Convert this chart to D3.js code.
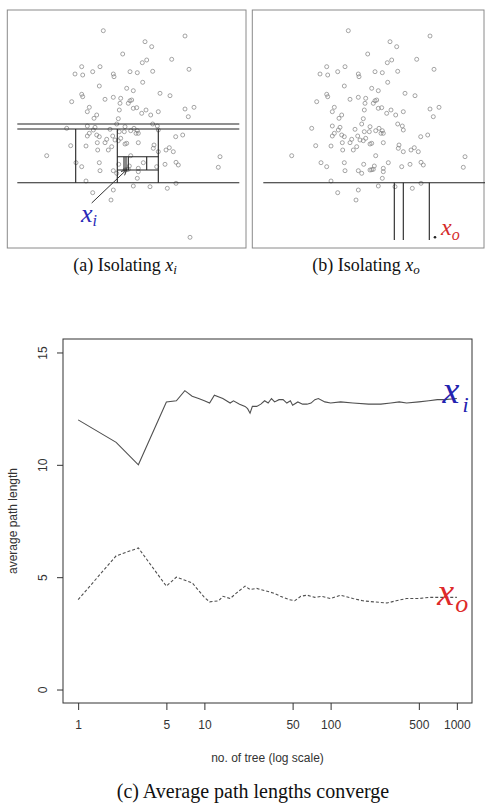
<!DOCTYPE html>
<html>
<head>
<meta charset="utf-8">
<script src="https://cdn.jsdelivr.net/npm/d3@7"></script>
<style>
  body { margin: 0; background: #fff; }
  svg { display: block; }
</style>
</head>
<body>
<div id="chart"></div>
<script>
// ---- data ----

// scatter sample used in panels (a) and (b), arbitrary units, y grows downward
const ptX = [10.33,18.5,14.5,15.17,12.27,17.17,14.67,14.23,8.17,10.0,7.5,8.27,9.27,11.33,11.4,13.0,13.73,15.27,18.9,14.27,
  9.93,12.67,13.33,16.0,17.0,8.17,8.27,7.17,10.5,11.33,12.07,12.0,12.83,13.0,13.17,13.67,13.33,8.93,8.73,9.67,
  9.4,11.93,14.6,15.07,15.83,14.17,18.5,19.4,18.83,6.67,8.73,9.5,9.33,8.93,8.73,9.67,9.93,11.0,11.67,11.83,
  11.93,12.5,12.43,13.07,13.4,13.73,13.83,13.6,15.27,15.73,15.83,10.67,11.27,11.5,11.83,12.07,12.5,12.67,13.83,9.73,
  8.6,7.07,10.5,11.17,9.77,10.83,15.4,15.33,15.83,16.6,16.93,17.33,17.57,18.27,4.67,13.07,7.6,8.17,9.93,10.0,
  11.33,11.87,11.67,12.5,12.83,12.93,13.83,13.83,14.33,15.67,16.5,17.6,17.83,22.0,21.83,8.6,13.73,13.33,15.0,16.73,
  17.6,9.27,11.33,11.1,12.67];
const ptY = [3.07,3.6,4.17,4.67,5.4,5.93,6.0,6.27,6.67,6.67,7.4,7.5,7.17,7.4,7.67,7.17,7.27,7.13,6.93,8.23,
  8.6,8.83,9.07,9.33,9.57,9.43,9.67,10.17,9.93,9.73,9.83,10.33,10.33,10.07,10.0,10.77,10.83,10.73,11.17,11.5,
  11.83,11.0,11.0,11.5,11.17,11.33,10.9,10.73,11.67,12.83,12.6,12.73,13.0,13.33,13.6,13.5,13.67,12.93,12.4,11.87,
  13.17,12.67,13.17,13.07,12.83,13.07,13.33,13.33,12.4,12.6,13.0,13.93,13.6,14.0,14.07,13.83,14.4,14.33,14.27,14.27,
  14.6,14.57,14.27,14.67,15.0,15.0,14.5,14.83,15.17,15.0,14.77,15.17,13.67,13.5,15.57,15.57,16.27,16.67,16.27,17.07,
  17.07,16.43,17.33,17.0,16.93,16.6,16.83,17.17,16.27,16.67,16.43,16.23,16.5,15.67,16.73,18.1,17.83,18.6,18.67,18.83,
  18.33,19.27,19.0,20.0,16.97];
const inlier = [12.67, 16.97];   // x_i
const outlier = [19.0, 23.73];   // x_o

// partition lines [x1, y1, x2, y2]
const cutsA = [
  [1.73,12.4,23.93,12.4],[1.73,12.9,23.93,12.9],[1.73,18.27,23.93,18.27],
  [7.57,12.9,7.57,18.27],[15.83,12.9,15.83,18.27],[11.73,12.9,11.73,18.27],
  [11.73,15.67,15.83,15.67],[11.73,17.0,15.83,17.0],[14.67,15.67,14.67,17.0],
  [12.4,15.67,12.4,17.0],[12.6,15.67,12.6,17.0],[12.83,15.67,12.83,17.0]
];
const cutsB = [
  [1.83,18.27,24.0,18.27],[14.93,18.27,14.93,24.0],[15.83,18.27,15.83,24.0],[18.43,18.27,18.43,24.0]
];

// average path length vs number of trees
const treesI = [1,2,3,5,6,7,8,9,10,11,12,14,16,17,19,21,22,23,24,26,28,30,32,34,36,39,42,45,48,50,55,60,65,70,75,80,90,100,120,150,200,250,300,350,400,500,600,700,800,1000];
const pathI  = [12.0,11.0,10.0,12.8,12.85,13.3,13.05,12.95,12.85,12.75,13.1,12.95,12.75,12.85,12.7,12.6,12.5,12.3,12.6,12.6,12.7,12.85,12.75,12.95,12.8,12.9,12.9,12.75,12.85,12.65,12.8,12.7,12.7,12.75,12.9,12.95,12.8,12.75,12.8,12.75,12.7,12.7,12.75,12.8,12.75,12.8,12.85,12.9,12.9,12.95];
const treesO = [1,2,3,5,6,8,10,11,13,14,16,18,21,23,26,30,35,40,47,52,58,65,75,85,100,120,150,180,220,280,330,400,500,600,800,1000];
const pathO  = [4.0,5.95,6.3,4.6,5.0,4.75,4.1,3.9,3.95,4.15,4.05,4.3,4.6,4.45,4.5,4.4,4.3,4.15,4.0,3.95,4.15,4.2,4.1,4.15,4.05,4.2,4.05,3.95,3.9,3.85,3.95,4.05,4.05,4.1,4.1,4.1];

const xTicks = [1,5,10,50,100,500,1000];
const yTicks = [0,5,10,15];

// ---- drawing ----
const W = 485, H = 803;
const serif = "'Liberation Serif', 'DejaVu Serif', serif";
const sans = "'Liberation Sans', Arial, sans-serif";

const svg = d3.select("#chart").append("svg")
  .attr("width", W).attr("height", H);

// panel scales (shared units), panels are shifted horizontally
const px = d3.scaleLinear().domain([0, 24]).range([0, 240]);
const py = d3.scaleLinear().domain([0, 24]).range([0, 240]);

function drawPanel(offset, right, cuts) {
  const g = svg.append("g").attr("transform", `translate(${offset},0)`);
  g.append("rect")
    .attr("x", px(0.73)).attr("y", py(1.0))
    .attr("width", px(right) - px(0.73)).attr("height", py(24.8) - py(1.0))
    .attr("fill", "none").attr("stroke", "#8a8a8a").attr("stroke-width", 1);
  g.append("g").selectAll("circle")
    .data(d3.range(ptX.length))
    .join("circle")
    .attr("cx", i => px(ptX[i]))
    .attr("cy", i => py(ptY[i]))
    .attr("r", 2.0)
    .attr("fill", "none")
    .attr("stroke", "#808080")
    .attr("stroke-width", 0.7);
  g.append("g").selectAll("line")
    .data(cuts)
    .join("line")
    .attr("x1", d => px(d[0])).attr("y1", d => py(d[1]))
    .attr("x2", d => px(d[2])).attr("y2", d => py(d[3]))
    .attr("stroke", "#222").attr("stroke-width", 1.1);
  return g;
}

const gA = drawPanel(0, 24.6, cutsA);
gA.append("circle")
  .attr("cx", px(outlier[0])).attr("cy", py(outlier[1])).attr("r", 2.0)
  .attr("fill", "none").attr("stroke", "#808080").attr("stroke-width", 0.7);

// arrow to x_i
const ax0 = px(9.17), ay0 = py(20.3), ax1 = px(inlier[0]), ay1 = py(inlier[1]);
const ang = Math.atan2(ay1 - ay0, ax1 - ax0);
gA.append("line").attr("x1", ax0).attr("y1", ay0).attr("x2", ax1).attr("y2", ay1)
  .attr("stroke", "#333").attr("stroke-width", 1);
[0.45, -0.45].forEach(a => {
  gA.append("line")
    .attr("x1", ax1).attr("y1", ay1)
    .attr("x2", ax1 - 6 * Math.cos(ang + a)).attr("y2", ay1 - 6 * Math.sin(ang + a))
    .attr("stroke", "#333").attr("stroke-width", 1);
});
const labA = gA.append("text").attr("x", px(8.1)).attr("y", py(22.2))
  .attr("font-family", serif).attr("font-style", "italic")
  .attr("font-size", 26).attr("fill", "#2a2ab8");
labA.append("tspan").text("x");
labA.append("tspan").attr("font-size", 16).attr("dy", 4).text("i");

const gB = drawPanel(245, 23.9, cutsB);
gB.append("circle")
  .attr("cx", px(outlier[0])).attr("cy", py(outlier[1])).attr("r", 1.3)
  .attr("fill", "#222");
const labB = gB.append("text").attr("x", px(19.6)).attr("y", py(23.5))
  .attr("font-family", serif).attr("font-style", "italic")
  .attr("font-size", 24).attr("fill", "#d42a2a");
labB.append("tspan").text("x");
labB.append("tspan").attr("font-size", 16).attr("dy", 5).text("o");

// captions for (a) and (b)
function caption(cx, y, tag, sub) {
  const t = svg.append("text").attr("x", cx).attr("y", y)
    .attr("text-anchor", "middle").attr("font-family", serif)
    .attr("font-size", 18).attr("fill", "#111");
  t.append("tspan").text(`(${tag}) Isolating `);
  t.append("tspan").attr("font-style", "italic").text("x");
  t.append("tspan").attr("font-style", "italic").attr("font-size", 13).attr("dy", 3).text(sub);
}
caption(125, 271, "a", "i");
caption(366, 271, "b", "o");

// ---- line chart (c) ----
const box = {left: 63, right: 472, top: 339, bottom: 703};
const x = d3.scaleLog().domain([Math.pow(10, -0.12), Math.pow(10, 3.12)]).range([box.left, box.right]);
const y = d3.scaleLinear().domain([-0.6, 15.6]).range([box.bottom, box.top]);

svg.append("rect")
  .attr("x", box.left).attr("y", box.top)
  .attr("width", box.right - box.left).attr("height", box.bottom - box.top)
  .attr("fill", "none").attr("stroke", "#333").attr("stroke-width", 1);

const xAxis = svg.append("g")
  .attr("transform", `translate(0,${box.bottom})`)
  .call(d3.axisBottom(x).tickValues(xTicks).tickFormat(d3.format("d")).tickSize(7).tickPadding(10));
xAxis.select(".domain").remove();
xAxis.selectAll("line").attr("stroke", "#333");
xAxis.selectAll("text").attr("font-family", sans).attr("font-size", 12).attr("fill", "#333");

const yAxis = svg.append("g")
  .attr("transform", `translate(${box.left},0)`)
  .call(d3.axisLeft(y).tickValues(yTicks).tickSize(6));
yAxis.select(".domain").remove();
yAxis.selectAll("line").attr("stroke", "#333");
yAxis.selectAll("text")
  .attr("transform", "rotate(-90)")
  .attr("x", 0).attr("y", -16).attr("dy", 0)
  .attr("text-anchor", "middle")
  .attr("font-family", sans).attr("font-size", 12).attr("fill", "#333");

const line = d3.line().x(d => x(d[0])).y(d => y(d[1]));
svg.append("path")
  .datum(treesI.map((t, i) => [t, pathI[i]]))
  .attr("d", line).attr("fill", "none")
  .attr("stroke", "#505050").attr("stroke-width", 1.1);
svg.append("path")
  .datum(treesO.map((t, i) => [t, pathO[i]]))
  .attr("d", line).attr("fill", "none")
  .attr("stroke", "#505050").attr("stroke-width", 1.1)
  .attr("stroke-dasharray", "3,2");

// series labels
const labI = svg.append("text").attr("x", x(770)).attr("y", y(12.75))
  .attr("font-family", serif).attr("font-style", "italic")
  .attr("font-size", 38).attr("fill", "#2323b0");
labI.append("tspan").text("x");
labI.append("tspan").attr("font-size", 22).attr("dx", 3).attr("dy", 9).text("i");

const labO = svg.append("text").attr("x", x(700)).attr("y", y(3.76))
  .attr("font-family", serif).attr("font-style", "italic")
  .attr("font-size", 38).attr("fill", "#de2a2a");
labO.append("tspan").text("x");
labO.append("tspan").attr("font-size", 26).attr("dx", 1).attr("dy", 7).text("o");

// axis titles
svg.append("text")
  .attr("x", (box.left + box.right) / 2).attr("y", 762)
  .attr("text-anchor", "middle")
  .attr("font-family", sans).attr("font-size", 12).attr("fill", "#333")
  .text("no. of tree (log scale)");
svg.append("text")
  .attr("transform", `translate(17,${(box.top + box.bottom) / 2}) rotate(-90)`)
  .attr("text-anchor", "middle")
  .attr("font-family", sans).attr("font-size", 12).attr("fill", "#333")
  .text("average path length");

// caption (c)
svg.append("text")
  .attr("x", 253).attr("y", 798)
  .attr("text-anchor", "middle")
  .attr("font-family", serif).attr("font-size", 20).attr("fill", "#111")
  .text("(c) Average path lengths converge");
</script>
</body>
</html>
